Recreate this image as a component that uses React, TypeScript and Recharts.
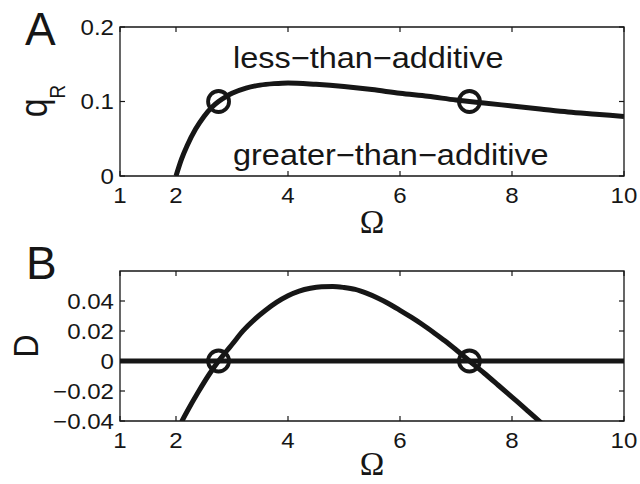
import React from 'react';
import { ComposedChart, Line, Scatter, XAxis, YAxis, ReferenceArea } from 'recharts';

// panel A: q_R against Omega
const omegaQ = [2.0, 2.1, 2.2, 2.35, 2.5, 2.65, 2.76, 2.9, 3.0, 3.25, 3.5, 3.75, 4.0, 4.5, 5.0, 5.5, 6.0, 6.5, 7.0, 7.24, 7.5, 8.0, 8.5, 9.0, 9.5, 10.0];
const qR = [0, 0.023, 0.041, 0.063, 0.08, 0.093, 0.1, 0.107, 0.111, 0.118, 0.122, 0.124, 0.125, 0.123, 0.12, 0.116, 0.111, 0.107, 0.102, 0.1, 0.098, 0.094, 0.09, 0.086, 0.083, 0.08];

// panel B: D against Omega
const omegaD = [2.1, 2.2, 2.4, 2.6, 2.76, 2.9, 3.0, 3.2, 3.4, 3.6, 3.8, 4.0, 4.2, 4.4, 4.6, 4.8, 5.0, 5.2, 5.4, 5.6, 5.8, 6.0, 6.2, 6.4, 6.6, 6.8, 7.0, 7.24, 7.5, 7.75, 8.0, 8.25, 8.5, 8.6];
const dVals = [-0.0405, -0.0335, -0.0205, -0.0085, 0, 0.0065, 0.011, 0.0202, 0.0276, 0.0338, 0.0392, 0.0435, 0.0466, 0.0485, 0.0495, 0.0497, 0.049, 0.0477, 0.0452, 0.042, 0.0382, 0.0338, 0.0292, 0.0243, 0.019, 0.0135, 0.0075, 0, -0.008, -0.016, -0.0241, -0.0322, -0.0405, -0.044];

// open circles where q_R = 0.1 / D = 0
const circleOmega = [2.76, 7.24];
const circleQ = [0.1, 0.1];
const circleD = [0, 0];

const zeroOmega = [1, 10];
const zeroD = [0, 0];

const omegaTicks = [1, 2, 4, 6, 8, 10];
const qTicks = [0, 0.1, 0.2];
const dTicks = [-0.04, -0.02, 0, 0.02, 0.04];

const SANS = '"Liberation Sans", Arial, Helvetica, sans-serif';
const SERIF = '"Liberation Serif", "Times New Roman", serif';
const INK = '#161616';
const W = 640;
const H = 242;
const PLOT_W = 504;
const Y_AXIS_W = 60;
const X_AXIS_H = 40;

const zip = (xs: number[], ys: number[]) => xs.map((omega, i) => ({ omega, v: ys[i] }));
const curveA = zip(omegaQ, qR);
const curveB = zip(omegaD, dVals);
const ringsA = zip(circleOmega, circleQ);
const ringsB = zip(circleOmega, circleD);
const zeroLine = zip(zeroOmega, zeroD);

const fmt = (v: number) => (v < 0 ? '\u2212' + String(-v) : String(v));

function renderXTick(p: any, plotH: number) {
  const { x, y, payload } = p;
  return (
    <g key={'x' + payload.value}>
      <line x1={x} x2={x} y1={y} y2={y - 5} stroke={INK} strokeWidth={1.2} />
      <line x1={x} x2={x} y1={y - plotH} y2={y - plotH + 5} stroke={INK} strokeWidth={1.2} />
      <text transform={`translate(${x},${y + 27}) scale(1.12,1)`} textAnchor="middle" fontFamily={SANS} fontSize={21.5} fill={INK}>
        {fmt(payload.value)}
      </text>
    </g>
  );
}

function renderYTick(p: any) {
  const { x, y, payload } = p;
  return (
    <g key={'y' + payload.value}>
      <line x1={x} x2={x + 5} y1={y} y2={y} stroke={INK} strokeWidth={1.2} />
      <line x1={x + PLOT_W} x2={x + PLOT_W - 5} y1={y} y2={y} stroke={INK} strokeWidth={1.2} />
      <text transform={`translate(${x - 6},${y + 7.6}) scale(1.12,1)`} textAnchor="end" fontFamily={SANS} fontSize={21.5} fill={INK}>
        {fmt(payload.value)}
      </text>
    </g>
  );
}

const Ring = ({ cx, cy }: any) => <circle cx={cx} cy={cy} r={10.5} fill="none" stroke={INK} strokeWidth={3.8} />;

function Panel({ curve, rings, zero, yDomain, yTicks, margin, plotH }: any) {
  return (
    <ComposedChart width={W} height={H} margin={margin}>
      <XAxis type="number" dataKey="omega" domain={[1, 10]} ticks={omegaTicks} interval={0} allowDataOverflow
        axisLine={false} tickLine={false} tickSize={0} tickMargin={0} height={X_AXIS_H}
        tick={(p: any) => renderXTick(p, plotH)} />
      <YAxis type="number" dataKey="v" domain={yDomain} ticks={yTicks} interval={0} allowDataOverflow
        axisLine={false} tickLine={false} tickSize={0} tickMargin={0} width={Y_AXIS_W}
        tick={renderYTick} />
      <ReferenceArea x1={1} x2={10} y1={yDomain[0]} y2={yDomain[1]} fill="none" fillOpacity={0} stroke={INK} strokeWidth={1.3} />
      {zero && <Line data={zero} dataKey="v" type="linear" stroke={INK} strokeWidth={5} dot={false} isAnimationActive={false} />}
      <Line data={curve} dataKey="v" type="monotone" stroke={INK} strokeWidth={5} dot={false} isAnimationActive={false} />
      <Scatter data={rings} dataKey="v" shape={Ring} isAnimationActive={false} />
    </ComposedChart>
  );
}

export default function App() {
  return (
    <div style={{ position: 'absolute', left: 0, top: 0, width: 640, height: 484, background: '#fff' }}>
      <div style={{ position: 'absolute', left: 0, top: 0 }}>
        <Panel curve={curveA} rings={ringsA} yDomain={[0, 0.2]} yTicks={qTicks}
          margin={{ top: 27, right: 16, bottom: 66 - X_AXIS_H, left: 120 - Y_AXIS_W }} plotH={149} />
      </div>
      <div style={{ position: 'absolute', left: 0, top: 242 }}>
        <Panel curve={curveB} rings={ringsB} zero={zeroLine} yDomain={[-0.04, 0.06]} yTicks={dTicks}
          margin={{ top: 29, right: 16, bottom: 63 - X_AXIS_H, left: 120 - Y_AXIS_W }} plotH={150} />
      </div>
      <svg width={640} height={484} style={{ position: 'absolute', left: 0, top: 0, pointerEvents: 'none' }}>
        <g fontFamily={SANS} fill={INK}>
          <text x={25} y={45} fontSize={46}>A</text>
          <text x={26} y={279} fontSize={46}>B</text>
          <text transform="translate(47,101) scale(1.12,1) rotate(-90)" textAnchor="middle" fontSize={34}>
            q<tspan fontSize={19} dy={16}>R</tspan>
          </text>
          <text transform="translate(38,346) scale(1.12,1) rotate(-90)" textAnchor="middle" fontSize={32}>D</text>
          <text transform="translate(233,68) scale(1.1,1)" fontSize={29.5}>less{'\u2212'}than{'\u2212'}additive</text>
          <text transform="translate(233,165) scale(1.1,1)" fontSize={29.5}>greater{'\u2212'}than{'\u2212'}additive</text>
        </g>
        <g fontFamily={SERIF} fill={INK} fontSize={33} textAnchor="middle">
          <text x={372} y={233}>{'\u03A9'}</text>
          <text x={372} y={475}>{'\u03A9'}</text>
        </g>
      </svg>
    </div>
  );
}
